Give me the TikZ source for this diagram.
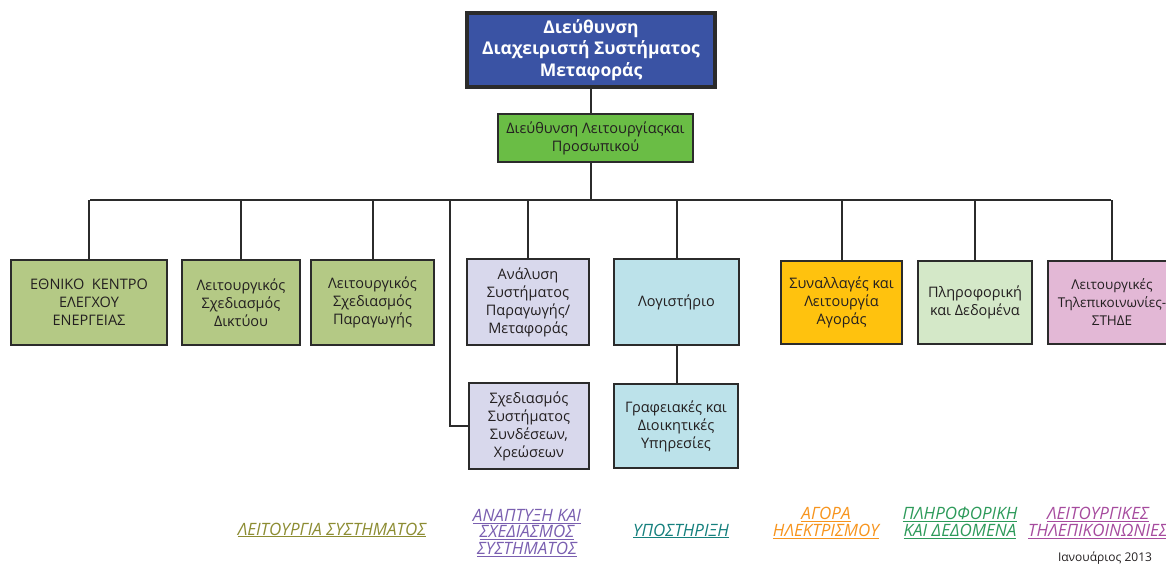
\documentclass[tikz,border=0pt]{standalone}
\usepackage{fontspec}
\setmainfont{Open Sans}
\definecolor{topblue}{HTML}{3A53A4}
\definecolor{midgreen}{HTML}{6ABD45}
\definecolor{olivebox}{HTML}{B4C985}
\definecolor{lavbox}{HTML}{D8D8EC}
\definecolor{cyanbox}{HTML}{BCE2EA}
\definecolor{goldbox}{HTML}{FFC20E}
\definecolor{palegreen}{HTML}{D4E8C8}
\definecolor{pinkbox}{HTML}{E3B8D6}
\definecolor{txtdark}{HTML}{231F20}
\definecolor{linecol}{HTML}{2B2B2B}
\definecolor{olivetxt}{HTML}{8C8C32}
\definecolor{purpletxt}{HTML}{7A5FB0}
\definecolor{tealtxt}{HTML}{15807D}
\definecolor{orangetxt}{HTML}{F7941D}
\definecolor{greentxt}{HTML}{2D9A5A}
\definecolor{magtxt}{HTML}{A64B9E}
\newcommand{\ul}[1]{\underline{#1}}
\begin{document}
\begin{tikzpicture}[x=1pt,y=-1pt,
  orgbox/.style={draw=linecol, line width=2.4pt, rectangle, inner sep=0pt, align=center,
    text=txtdark, font=\fontsize{14.5}{18}\selectfont},
  conn/.style={draw=linecol, line width=2pt},
  grp/.style={align=center, font=\itshape\fontsize{17}{16.5}\selectfont, inner sep=0pt}]
\useasboundingbox (0,0) rectangle (1166,566);
% top
\node[orgbox, fill=topblue, line width=3.2pt, text=white, font=\bfseries\fontsize{17.5}{21.5}\selectfont,
  minimum width=248, minimum height=74] (top) at (591,50) {Διεύθυνση\\Διαχειριστή Συστήματος\\Μεταφοράς};
\node[orgbox, fill=midgreen, minimum width=195, minimum height=48] (mid) at (595.5,138) {Διεύθυνση Λειτουργίαςκαι\\Προσωπικού};
% row 1
\node[orgbox, fill=olivebox, minimum width=156, minimum height=85] (b1) at (89,302.5) {ΕΘΝΙΚΟ~~ΚΕΝΤΡΟ\\ΕΛΕΓΧΟΥ\\ΕΝΕΡΓΕΙΑΣ};
\node[orgbox, fill=olivebox, minimum width=118, minimum height=85] (b2) at (241,302.5) {Λειτουργικός\\Σχεδιασμός\\Δικτύου};
\node[orgbox, fill=olivebox, minimum width=123, minimum height=85] (b3) at (372.5,302.5) {Λειτουργικός\\Σχεδιασμός\\Παραγωγής};
\node[orgbox, fill=lavbox, minimum width=122, minimum height=86] (b4) at (528,302) {Ανάλυση\\Συστήματος\\Παραγωγής/\\Μεταφοράς};
\node[orgbox, fill=cyanbox, minimum width=125, minimum height=86] (b5) at (676.5,302) {Λογιστήριο};
\node[orgbox, fill=goldbox, minimum width=121, minimum height=83] (b8) at (841.5,302.5) {Συναλλαγές και\\Λειτουργία\\Αγοράς};
\node[orgbox, fill=palegreen, minimum width=114, minimum height=83] (b9) at (975,302.5) {Πληροφορική\\και Δεδομένα};
\node[orgbox, fill=pinkbox, minimum width=128, minimum height=83, font=\fontsize{13.5}{18}\selectfont] (b10) at (1112,302.5) {Λειτουργικές\\Τηλεπικοινωνίες-\\ΣΤΗΔΕ};
% row 2
\node[orgbox, fill=lavbox, minimum width=120, minimum height=86] (b6) at (529,426) {Σχεδιασμός\\Συστήματος\\Συνδέσεων,\\Χρεώσεων};
\node[orgbox, fill=cyanbox, minimum width=124, minimum height=84] (b7) at (676,426) {Γραφειακές και\\Διοικητικές\\Υπηρεσίες};
% connectors
\coordinate (busL) at (90,200);
\coordinate (busR) at (1111,200);
\coordinate (busX) at (450,200);
\draw[conn] (top.south) -- (mid.north -| top.south);
\draw[conn] (mid.south -| top.south) -- (busL -| top.south);
\draw[conn] (busL) -- (busR);
\foreach \n in {b1,b2,b3,b4,b5,b8,b9,b10} {
  \draw[conn] (\n.north) -- (\n.north |- busL);
}
\draw[conn] (b6.west) -| (busX);
\draw[conn] (b5.south) -- (b7.north -| b5.south);
% group labels
\node[grp, text=olivetxt] (g1) at (332,530) {\ul{ΛΕΙΤΟΥΡΓΙΑ ΣΥΣΤΗΜΑΤΟΣ}};
\node[grp, text=purpletxt] (g2) at (527,533) {\ul{ΑΝΑΠΤΥΞΗ ΚΑΙ}\\\ul{ΣΧΕΔΙΑΣΜΟΣ}\\\ul{ΣΥΣΤΗΜΑΤΟΣ}};
\node[grp, text=tealtxt] (g3) at (681,531) {\ul{ΥΠΟΣΤΗΡΙΞΗ}};
\node[grp, text=orangetxt] (g4) at (826,523) {\ul{ΑΓΟΡΑ}\\\ul{ΗΛΕΚΤΡΙΣΜΟΥ}};
\node[grp, text=greentxt] (g5) at (960,523) {\ul{ΠΛΗΡΟΦΟΡΙΚΗ}\\\ul{ΚΑΙ ΔΕΔΟΜΕΝΑ}};
\node[grp, text=magtxt] (g6) at (1098,523) {\ul{ΛΕΙΤΟΥΡΓΙΚΕΣ}\\\ul{ΤΗΛΕΠΙΚΟΙΝΩΝΙΕΣ}};
\node[font=\fontsize{12}{14}\selectfont, text=txtdark, inner sep=0pt] (date) at (1105,558) {Ιανουάριος 2013};
\end{tikzpicture}
\end{document}
